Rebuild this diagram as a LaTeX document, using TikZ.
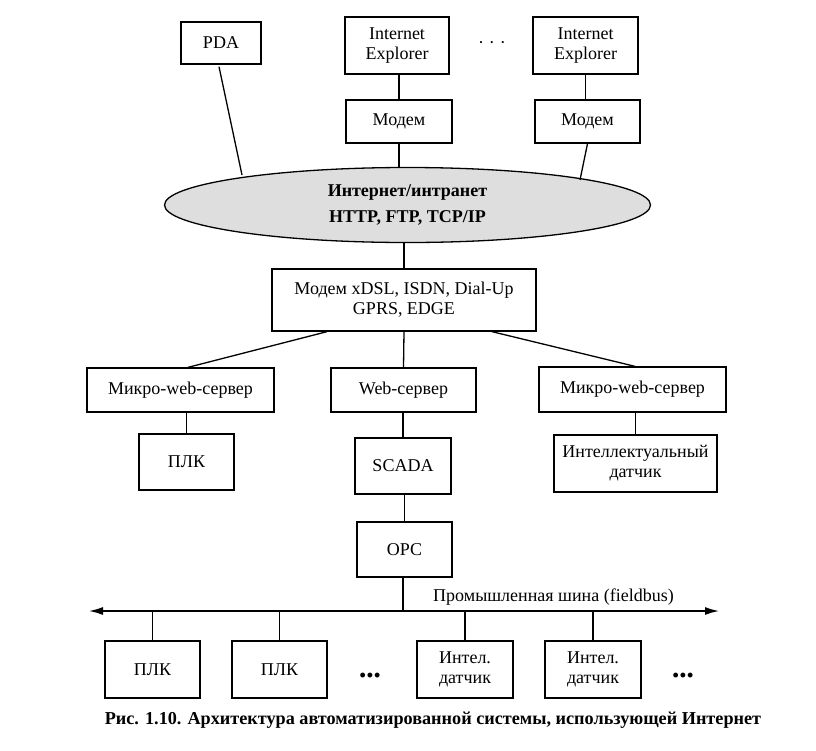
\documentclass[tikz,border=0pt]{standalone}
\usepackage{fontspec}
\setmainfont{Liberation Serif}
\usetikzlibrary{shapes.geometric,arrows.meta,calc}
\begin{document}
\begin{tikzpicture}[x=1pt,y=-1pt,
  box/.style={draw,line width=1.3pt,align=center,inner sep=0pt,
    font=\fontsize{18}{20}\selectfont},
  conn/.style={line width=1.3pt},
  lbl/.style={inner sep=0pt,font=\fontsize{18}{20}\selectfont}]
\useasboundingbox (0,0) rectangle (816,750);
% top row
\node[box,minimum width=80pt,minimum height=42pt] (pda) at (221,43) {PDA};
\node[box,minimum width=104pt,minimum height=57pt] (ie1) at (397,45.5) {Internet\\Explorer};
\node[lbl] (dtop) at (492,45) {·\hspace{5pt}·\hspace{5pt}·};
\node[box,minimum width=105pt,minimum height=57pt] (ie2) at (585.5,45.5) {Internet\\Explorer};
\node[box,minimum width=106pt,minimum height=43pt] (mod1) at (399,121.5) {Модем};
\node[box,minimum width=105pt,minimum height=43pt] (mod2) at (587.5,121.5) {Модем};
% cloud
\node[ellipse,draw,line width=1.3pt,fill=black!13,minimum width=486pt,minimum height=75pt,
  inner sep=0pt,align=center,font=\fontsize{18}{26}\selectfont\bfseries] (net) at (407.5,205)
  {Интернет/интранет\\HTTP, FTP, TCP/IP};
\coordinate (netR) at ($(net.center)+(172.5,-25)$);
\coordinate (netL) at ($(net.center)+(-165.5,-30)$);
\node[box,minimum width=264pt,minimum height=62pt] (xdsl) at (404,300) {Модем xDSL, ISDN, Dial-Up\\GPRS, EDGE};
% servers
\node[box,minimum width=187pt,minimum height=44pt] (micro1) at (180.5,390) {Микро-web-сервер};
\node[box,minimum width=145pt,minimum height=44pt] (web) at (403.5,390) {Web-сервер};
\node[box,minimum width=187pt,minimum height=45pt] (micro2) at (632.5,389.5) {Микро-web-сервер};
\node[box,minimum width=95pt,minimum height=56pt] (plk1) at (186.5,462) {ПЛК};
\node[box,minimum width=96pt,minimum height=56pt] (scada) at (403,466) {SCADA};
\node[box,minimum width=163pt,minimum height=57pt] (intel) at (635.5,463.5) {Интеллектуальный\\датчик};
\node[box,minimum width=95pt,minimum height=55pt] (opc) at (404.5,549.5) {OPC};
% bus
\coordinate (busL) at (88,611);
\coordinate (busR) at (720,611);
\node[lbl,anchor=base] (buslbl) at (553.5,601) {Промышленная шина (fieldbus)};
% field devices
\node[box,minimum width=95pt,minimum height=57pt] (plka) at (152.5,669.5) {ПЛК};
\node[box,minimum width=95pt,minimum height=57pt] (plkb) at (279.5,669.5) {ПЛК};
\node[lbl] (dbot1) at (370,677) {\textbf{•\hspace{1pt}•\hspace{1pt}•}};
\node[box,minimum width=96pt,minimum height=57pt] (inta) at (465,669.5) {Интел.\\датчик};
\node[box,minimum width=96pt,minimum height=57pt] (intb) at (593,669.5) {Интел.\\датчик};
\node[lbl] (dbot2) at (683,677) {\textbf{•\hspace{1pt}•\hspace{1pt}•}};
% caption
\node[inner sep=0pt,font=\fontsize{18.2}{22}\selectfont\bfseries] (cap) at (433,720)
  {Рис. 1.10. Архитектура автоматизированной системы, использующей Интернет};
% connectors
\draw[conn] ([xshift=2pt]ie1.south) -- ([xshift=2pt]ie1.south |- mod1.north);
\draw[conn] (ie2.south) -- (ie2.south |- mod2.north);
\draw[conn] (mod1.south) -- (mod1.south |- net.north);
\draw[conn] (mod2.south) -- (netR);
\draw[conn] ([xshift=-2pt,yshift=-2pt]pda.south) -- (netL);
\draw[conn] (xdsl.north) -- (xdsl.north |- net.south);
\draw[conn] ([xshift=-77pt]xdsl.south) -- ([xshift=7.5pt]micro1.north);
\draw[conn] (xdsl.south) -- (web.north);
\draw[conn] ([xshift=88pt]xdsl.south) -- ([xshift=2.5pt]micro2.north);
\draw[conn] (plk1.north) -- (plk1.north |- micro1.south);
\draw[conn] (scada.north) -- (scada.north |- web.south);
\draw[conn] (intel.north) -- (intel.north |- micro2.south);
\draw[conn] (opc.north) -- (opc.north |- scada.south);
\draw[conn] ([xshift=-1.5pt]opc.south) -- ([xshift=-1.5pt]opc.south |- busL);
\draw[line width=2.4pt,{Latex[length=15pt,width=8pt]}-{Latex[length=15pt,width=8pt]}] (busL) -- (busR);
\draw[conn] (plka.north) -- (plka.north |- busL);
\draw[conn] (plkb.north) -- (plkb.north |- busL);
\draw[conn] (inta.north) -- (inta.north |- busL);
\draw[conn] (intb.north) -- (intb.north |- busL);
\end{tikzpicture}
\end{document}
